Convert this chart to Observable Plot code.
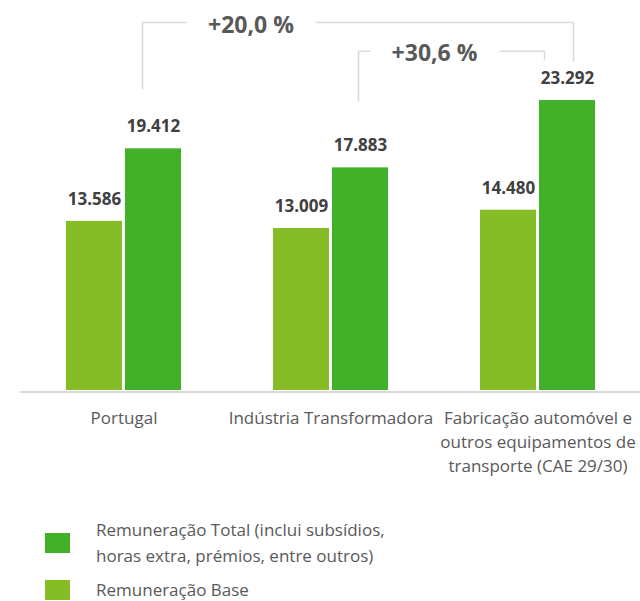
<!DOCTYPE html>
<html>
<head>
<meta charset="utf-8">
<script src="https://cdn.jsdelivr.net/npm/d3@7"></script>
<script src="https://cdn.jsdelivr.net/npm/@observablehq/plot@0.6"></script>
<style>
  html, body { margin: 0; padding: 0; background: #fff; }
  #chart { width: 640px; height: 601px; position: relative; overflow: hidden; font-family: "Open Sans", sans-serif; }
  .legend { position: absolute; left: 45px; font-size: 17px; color: #595959; line-height: 26px; }
  .legend .row { display: flex; align-items: center; }
  .legend .sw { width: 25px; height: 20px; flex: none; margin-right: 26px; }
</style>
</head>
<body>
<div id="chart"></div>
<script>
// ---- data ----
const categories = ["Portugal", "Indústria Transformadora", "Fabricação automóvel e\noutros equipamentos de\ntransporte (CAE 29/30)"];
const seriesNames = ["Remuneração Base", "Remuneração Total"];
const baseValues = [13586, 13009, 14480];
const totalValues = [19412, 17883, 23292];
const legendLabels = ["Remuneração Total (inclui subsídios,\nhoras extra, prémios, entre outros)", "Remuneração Base"];
const growthLabels = ["+20,0 %", "+30,6 %"];
const growthFrom = [0, 1];   // category index
const growthTo = [2, 2];

// ---- styles ----
const colors = {"Remuneração Base": "#86bc25", "Remuneração Total": "#43b02a"};
const offsets = {"Remuneração Base": [-0.2778, -0.0072], "Remuneração Total": [0.0072, 0.2778]};
const fmt = v => d3.format(",")(v).replace(/,/g, ".");

const rows = categories.flatMap((c, i) => [
  {i, series: seriesNames[0], value: baseValues[i]},
  {i, series: seriesNames[1], value: totalValues[i]}
]);

// bracket annotation geometry (x in category units, y in value units)
const brackets = [
  {left: growthFrom[0] + 0.0894, right: growthTo[0] + 0.1715, top: 29558, leftEnd: 24177, rightEnd: 26426, gapL: 0.3019, gapR: 0.9251, tx: 0.6135, ty: 29317, label: growthLabels[0]},
  {left: growthFrom[1] + 0.1329, right: growthTo[1] + 0.0314, top: 27253, leftEnd: 23213, rightEnd: 26586, gapL: 1.1908, gapR: 1.8140, tx: 1.5, ty: 27068, label: growthLabels[1]}
];
const segs = brackets.flatMap(b => [
  {x1: b.left, y1: b.leftEnd, x2: b.left, y2: b.top},
  {x1: b.left, y1: b.top, x2: b.gapL, y2: b.top},
  {x1: b.gapR, y1: b.top, x2: b.right, y2: b.top},
  {x1: b.right, y1: b.top, x2: b.right, y2: b.rightEnd}
]);

const plot = Plot.plot({
  width: 640,
  height: 480,
  margin: 0,
  style: {fontFamily: "'Open Sans', sans-serif", background: "transparent"},
  x: {type: "linear", domain: [-0.5, 2.5], range: [20, 641], axis: null},
  y: {domain: [0, 31325], range: [390, 0], axis: null},
  marks: [
    Plot.rectY(rows, {
      x1: d => d.i + offsets[d.series][0],
      x2: d => d.i + offsets[d.series][1],
      y1: 0, y2: "value",
      fill: d => colors[d.series]
    }),
    Plot.ruleY([0], {x1: -0.5, x2: 2.5, stroke: "#d9d9d9", strokeWidth: 2, dy: 1.5}),
    Plot.text(rows, {
      x: d => d.i + (offsets[d.series][0] + offsets[d.series][1]) / 2,
      y: "value",
      text: d => fmt(d.value),
      dy: -22,
      fill: "#404040",
      fontWeight: "bold",
      fontSize: 17
    }),
    Plot.text(categories, {
      x: (d, i) => i,
      y: 0,
      text: d => d,
      lineAnchor: "top",
      lineHeight: 1.4,
      dy: 17,
      fill: "#595959",
      fontSize: 17
    }),
    Plot.link(segs, {x1: "x1", y1: "y1", x2: "x2", y2: "y2", stroke: "#d9d9d9", strokeWidth: 1.5}),
    Plot.text(brackets, {
      x: "tx", y: "ty", text: "label",
      fill: "#595959", fontWeight: "bold", fontSize: 23
    })
  ]
});

const chart = document.getElementById("chart");
chart.appendChild(plot);

const legend = document.createElement("div");
legend.className = "legend";
legend.style.top = "517px";
const legendColors = [colors["Remuneração Total"], colors["Remuneração Base"]];
legendLabels.forEach((lab, k) => {
  const row = document.createElement("div");
  row.className = "row";
  if (k > 0) row.style.marginTop = "8px";
  const sw = document.createElement("div");
  sw.className = "sw";
  sw.style.background = legendColors[k];
  const tx = document.createElement("div");
  tx.innerHTML = lab.split("\n").join("<br>");
  row.appendChild(sw);
  row.appendChild(tx);
  legend.appendChild(row);
});
chart.appendChild(legend);
</script>
</body>
</html>
